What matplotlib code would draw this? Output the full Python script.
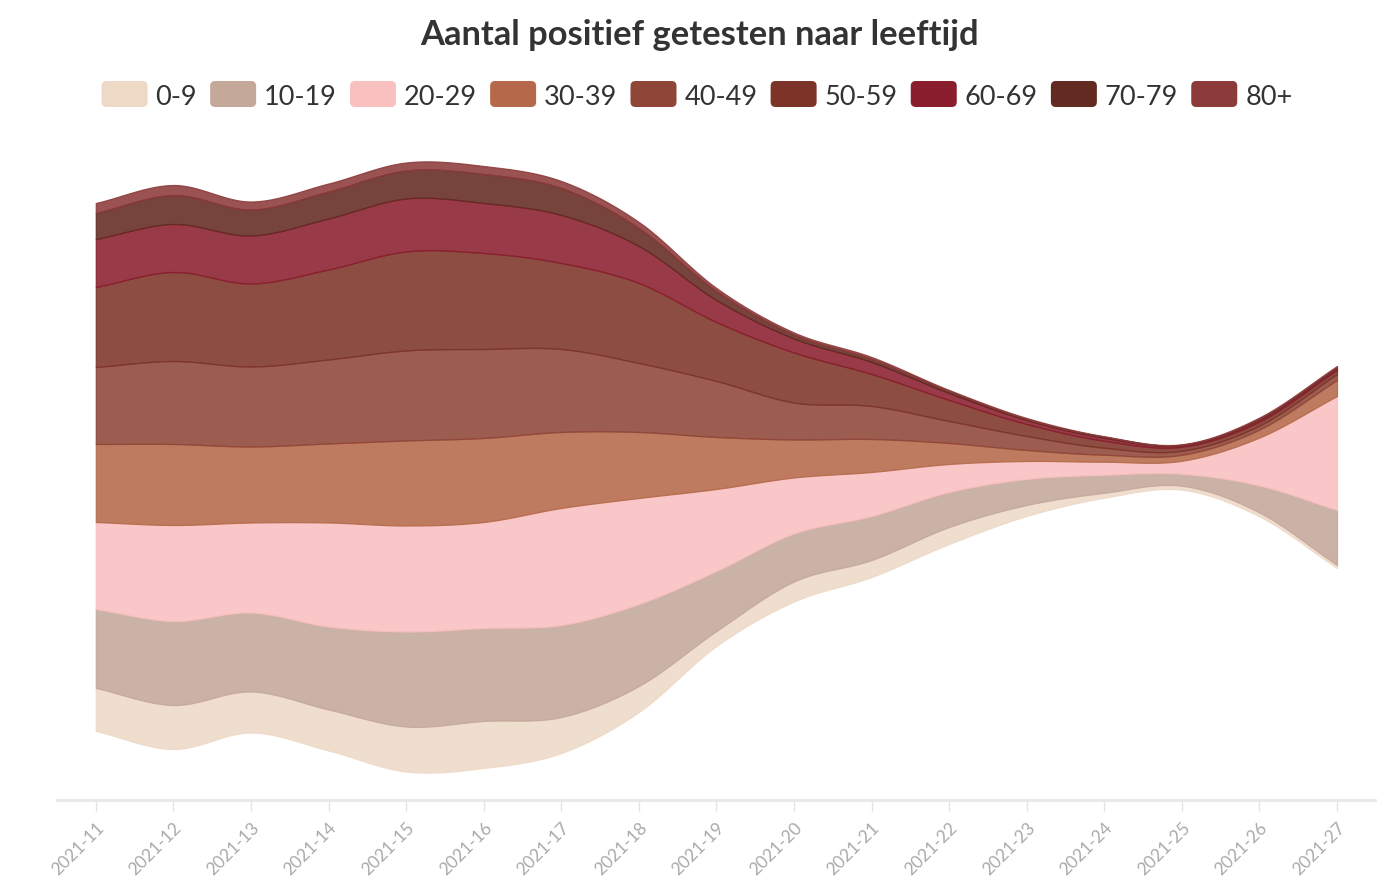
import numpy as np
import matplotlib.pyplot as plt
from matplotlib.patches import FancyBboxPatch
from matplotlib.transforms import IdentityTransform

plt.rcParams['font.family'] = ['Lato', 'DejaVu Sans']

weeks = [11, 12, 13, 14, 15, 16, 17, 18, 19, 20, 21, 22, 23, 24, 25, 26, 27]
week_labels = [f"2021-{w}" for w in weeks]
age_groups = ["0-9", "10-19", "20-29", "30-39", "40-49", "50-59", "60-69", "70-79", "80+"]
colors = ["#EDD9C6", "#C4A89A", "#F9C0C0", "#B5694A", "#8F4538",
          "#7D3428", "#8B1E2E", "#632A22", "#8C3A3A"]

# layer thickness per week (arbitrary units)
v0_9 = [43, 44, 41, 41, 45, 47, 36, 26, 15, 20, 17, 17, 11, 5, 4, 4, 3]
v10_19 = [79, 84, 79, 83, 95, 93, 92, 82, 60, 48, 44, 35, 26, 18, 12, 27, 55]
v20_29 = [87, 96, 90, 104, 106, 106, 117, 106, 82, 56, 44, 28, 18, 13, 13, 48, 114]
v30_39 = [78, 81, 76, 79, 85, 84, 76, 66, 52, 38, 33, 21, 11, 7, 6, 8, 16]
v40_49 = [77, 83, 80, 84, 90, 89, 83, 69, 56, 37, 33, 22, 14, 7, 4, 4, 6]
v50_59 = [80, 89, 83, 90, 99, 96, 86, 80, 59, 50, 32, 21, 12, 7, 4, 4, 4]
v60_69 = [48, 48, 48, 51, 53, 50, 48, 37, 22, 14, 12, 7, 4, 3, 1.5, 2, 2]
v70_79 = [26, 29, 26, 27, 28, 29, 27, 18, 9, 4, 3, 2, 1, 1, 0.5, 1, 1]
v80 = [10, 10, 8, 8, 8, 8, 7, 6, 3, 2, 2, 1, 1, 0.5, 0.5, 1, 1]

series = [v0_9, v10_19, v20_29, v30_39, v40_49, v50_59, v60_69, v70_79, v80]


def smooth_curve(x, y, xn):
    # catmull-rom style cubic hermite through the points
    x = np.asarray(x, float)
    y = np.asarray(y, float)
    h = np.diff(x)
    m = np.zeros_like(y)
    m[1:-1] = (y[2:] - y[:-2]) / (x[2:] - x[:-2])
    m[0] = (y[1] - y[0]) / h[0]
    m[-1] = (y[-1] - y[-2]) / h[-1]
    idx = np.clip(np.searchsorted(x, xn) - 1, 0, len(x) - 2)
    t = (xn - x[idx]) / h[idx]
    h00 = 2 * t**3 - 3 * t**2 + 1
    h10 = t**3 - 2 * t**2 + t
    h01 = -2 * t**3 + 3 * t**2
    h11 = t**3 - t**2
    return h00 * y[idx] + h10 * h[idx] * m[idx] + h01 * y[idx + 1] + h11 * h[idx] * m[idx + 1]


xs = np.linspace(weeks[0], weeks[-1], 600)
smooth = [np.clip(smooth_curve(weeks, s, xs), 0.2, None) for s in series]

fig = plt.figure(figsize=(14, 8.89), dpi=100)
ax = fig.add_axes([57 / 1400, 89 / 889, 1318 / 1400, 660 / 889])

polys = ax.stackplot(xs, smooth, baseline='sym', colors=colors, alpha=0.88)
for p, c in zip(polys, colors):
    p.set_edgecolor(c)
    p.set_linewidth(0.9)

ax.set_xlim(10.5, 27.49)
ax.set_ylim(-333, 327)
ax.set_xticks(weeks)
ax.set_xticklabels(week_labels, rotation=45, ha='right', va='top',
                   rotation_mode='anchor', color='#aaaaaa', fontsize=12.5)
ax.tick_params(axis='x', length=8, width=1, color='#e3e3e3', pad=6)
ax.set_yticks([])
for side in ['top', 'left', 'right']:
    ax.spines[side].set_visible(False)
ax.spines['bottom'].set_color('#e8e8e8')
ax.spines['bottom'].set_linewidth(2)

fig.text(0.5, 1 - 35 / 889, "Aantal positief getesten naar leeftijd",
         ha='center', va='center', fontsize=24.8, fontweight='bold', color='#333333')

# legend row, laid out in pixels
renderer = fig.canvas.get_renderer()
sw_w, sw_h, gap1, gap2 = 46, 26, 8, 13
y_c = 889 - 94
texts = []
widths = []
for lab in age_groups:
    t = fig.text(0, 0, lab, fontsize=19.5, color='#333333', va='center_baseline', ha='left',
                 transform=IdentityTransform())
    texts.append(t)
    widths.append(t.get_window_extent(renderer=renderer).width)
total = sum(sw_w + gap1 + w for w in widths) + gap2 * (len(widths) - 1)
x = 697 - total / 2
for t, w, c in zip(texts, widths, colors):
    box = FancyBboxPatch((x, y_c - sw_h / 2), sw_w, sw_h,
                         boxstyle="round,pad=0,rounding_size=5",
                         facecolor=c, edgecolor='none', transform=IdentityTransform())
    fig.add_artist(box)
    t.set_position((x + sw_w + gap1, y_c - 1))
    x += sw_w + gap1 + w + gap2

fig.savefig("out.png", dpi=100)
